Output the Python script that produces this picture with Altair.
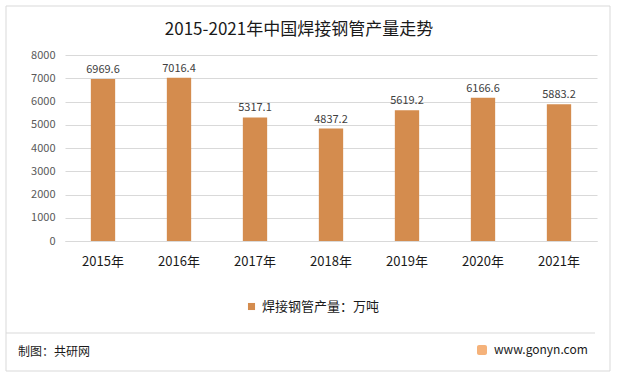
import altair as alt
import pandas as pd

years = ["2015年", "2016年", "2017年", "2018年", "2019年", "2020年", "2021年"]
values = [6969.6, 7016.4, 5317.1, 4837.2, 5619.2, 6166.6, 5883.2]
series = "焊接钢管产量：万吨"
title = "2015-2021年中国焊接钢管产量走势"
source = "制图：共研网"
site = "www.gonyn.com"

FONT = "Noto Sans CJK SC"
BAR = "#D48C4E"

df = pd.DataFrame({"year": years, "value": values, "series": [series] * len(years)})
one = pd.DataFrame({"k": [0]})

W, H = 532, 186
PL, PT = 65, 55

x = alt.X("year:N", sort=years, title=None,
          scale=alt.Scale(paddingInner=0.68, paddingOuter=0.34),
          axis=alt.Axis(labelAngle=0, ticks=False, domainColor="#D9D9D9",
                        labelFontSize=13, labelColor="#1a1a1a", labelPadding=14,
                        labelFont=FONT))
y = alt.Y("value:Q", title=None,
          scale=alt.Scale(domain=[0, 8000]),
          axis=alt.Axis(values=list(range(0, 8001, 1000)), format="d", labelOverlap=False,
                        domain=False, ticks=False,
                        gridColor="#D9D9D9", labelFontSize=11, labelColor="#595959",
                        labelPadding=10, labelFont=FONT))

base = alt.Chart(df)
ob = alt.Chart(one)

bars = base.mark_bar(color=BAR).encode(
    x=x, y=y,
    color=alt.Color("series:N", scale=alt.Scale(range=[BAR]),
                    legend=alt.Legend(title=None, orient="none", legendX=180, legendY=245,
                                      symbolType="square", symbolSize=50,
                                      symbolOffset=0, labelOffset=4,
                                      labelFontSize=13, labelColor="#1a1a1a",
                                      labelFont=FONT))
)

labels = base.mark_text(dy=-9, fontSize=11, color="#404040", font=FONT).encode(
    x=x, y=y, text=alt.Text("value:Q", format=".1f")
)

border = ob.mark_rect(fill=None, stroke="#D9D9D9", strokeWidth=1).encode(
    x=alt.value(6 - PL), x2=alt.value(610 - PL), y=alt.value(6 - PT), y2=alt.value(371 - PT)
)
sep = ob.mark_rule(color="#D9D9D9").encode(
    x=alt.value(6 - PL), x2=alt.value(595 - PL), y=alt.value(333 - PT)
)
titlet = ob.mark_text(align="center", baseline="middle", fontSize=17, color="#1a1a1a",
                      font=FONT, fontWeight="normal").encode(
    x=alt.value(299 - PL), y=alt.value(30 - PT), text=alt.value(title)
)
src = ob.mark_text(align="left", baseline="middle", fontSize=12, color="#1a1a1a",
                   font=FONT, fontWeight="normal").encode(
    x=alt.value(18 - PL), y=alt.value(352 - PT), text=alt.value(source)
)
sitet = ob.mark_text(align="left", baseline="middle", fontSize=12, color="#1a1a1a",
                     font=FONT, fontWeight="normal").encode(
    x=alt.value(494 - PL), y=alt.value(350 - PT), text=alt.value(site)
)
logo = ob.mark_rect(color="#F5B27A", cornerRadius=2).encode(
    x=alt.value(477 - PL), x2=alt.value(487 - PL), y=alt.value(345 - PT), y2=alt.value(355 - PT)
)

chart = alt.layer(bars, labels, border, sep, titlet, src, sitet, logo).properties(
    width=W, height=H,
    autosize=alt.AutoSizeParams(type="none"),
    padding={"left": PL, "top": PT, "right": 617 - PL - W, "bottom": 377 - PT - H},
    background="white",
).configure_view(stroke=None)

chart.save("out.html", embed_options={"renderer": "svg", "actions": False})
